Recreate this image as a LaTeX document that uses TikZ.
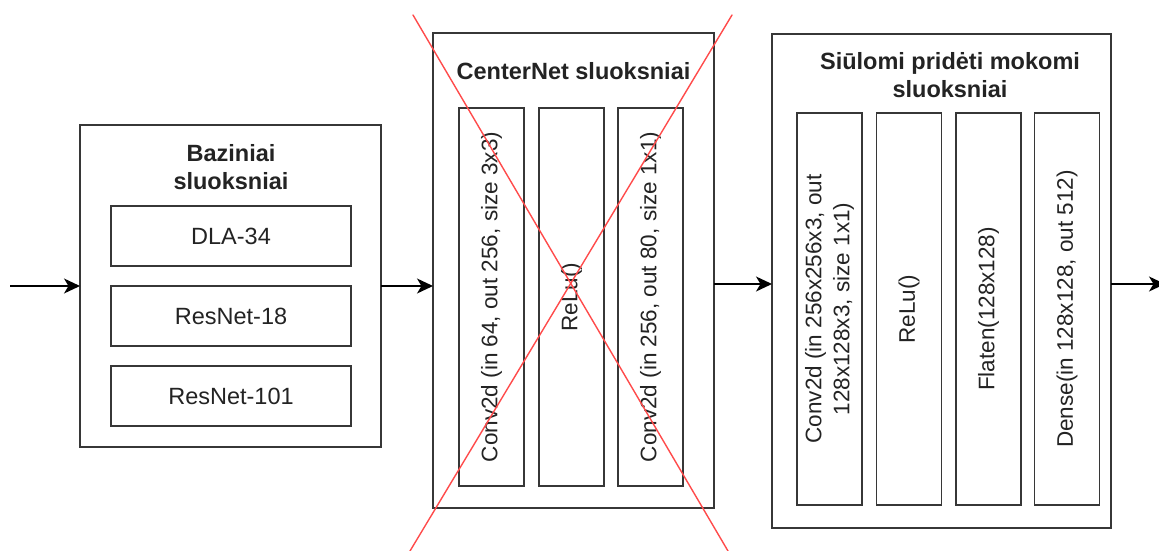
\documentclass[tikz,border=0pt]{standalone}
\usepackage{fontspec}
\setmainfont{Liberation Sans}
\usetikzlibrary{arrows.meta}

\definecolor{edgegray}{RGB}{55,55,55}
\definecolor{inkgray}{RGB}{35,35,35}
\definecolor{crossred}{RGB}{255,75,75}

\tikzset{
  layerbox/.style={draw=edgegray, line width=1.5pt, fill=white, inner sep=0pt, outer sep=0pt},
  lbl/.style={text=inkgray, font=\fontsize{23.5}{27.5}\selectfont, inner sep=0pt, align=center},
  vlbl/.style={lbl, font=\fontsize{22.5}{28}\selectfont, rotate=90},
  ttl/.style={lbl, font=\fontsize{23.5}{27.5}\selectfont\bfseries},
  flow/.style={draw=black, line width=1.5pt, -{Stealth[length=16pt,width=15pt,inset=4.5pt]}},
  strike/.style={draw=crossred, line width=1.4pt, line cap=round}
}

\begin{document}
\begin{tikzpicture}[x=1pt, y=-1pt]
  \useasboundingbox (0,0) rectangle (1159,551);

  % base networks
  \node[layerbox, minimum width=301pt, minimum height=322pt] (lb) at (230.5,286) {};
  \node[ttl, anchor=base] (lbt) at (231,189) {Baziniai\\sluoksniai};
  \node[layerbox, minimum width=240pt, minimum height=60pt] (dla) at (231,236) {};
  \node[lbl] at (dla.center) {DLA-34};
  \node[layerbox, minimum width=240pt, minimum height=60pt] (r18) at (231,316) {};
  \node[lbl] at (r18.center) {ResNet-18};
  \node[layerbox, minimum width=240pt, minimum height=60pt] (r101) at (231,396) {};
  \node[lbl] at (r101.center) {ResNet-101};

  % CenterNet head
  \node[layerbox, minimum width=281pt, minimum height=475pt] (mb) at (573.5,270.5) {};
  \node[ttl, anchor=base] (mbt) at (573.5,80) {CenterNet sluoksniai};
  \node[layerbox, minimum width=65pt, minimum height=378pt] (c1) at (491.5,297) {};
  \node[vlbl] at (c1.center) {Conv2d (in 64, out 256, size 3x3)};
  \node[layerbox, minimum width=65pt, minimum height=378pt] (c2) at (571.5,297) {};
  \node[vlbl] at (c2.center) {ReLu()};
  \node[layerbox, minimum width=65pt, minimum height=378pt] (c3) at (650.5,297) {};
  \node[vlbl] at (c3.center) {Conv2d (in 256, out 80, size 1x1)};

  % proposed trainable layers
  \node[layerbox, minimum width=339pt, minimum height=494pt] (rb) at (941.5,281) {};
  \node[ttl, anchor=base] (rbt) at (950,97) {Siūlomi pridėti mokomi\\sluoksniai};
  \node[layerbox, minimum width=65pt, minimum height=392pt] (p1) at (829.5,309) {};
  \node[vlbl] at (p1.center) {Conv2d (in 256x256x3, out\\128x128x3, size 1x1)};
  \node[layerbox, minimum width=65pt, minimum height=392pt] (p2) at (909,309) {};
  \node[vlbl] at (p2.center) {ReLu()};
  \node[layerbox, minimum width=65pt, minimum height=392pt] (p3) at (988.5,309) {};
  \node[vlbl] at (p3.center) {Flaten(128x128)};
  \node[layerbox, minimum width=65pt, minimum height=392pt] (p4) at (1067,309) {};
  \node[vlbl] at (p4.center) {Dense(in 128x128, out 512)};

  % data flow
  \coordinate (in) at (10,286);
  \coordinate (lvl) at (0,284);
  \coordinate (out) at (1165,284);
  \draw[flow] (in) -- (in -| lb.west);
  \draw[flow] (lb.east) -- (lb.east -| mb.west);
  \draw[flow] (mb.east |- lvl) -- (rb.west |- lvl);
  \draw[flow] (rb.east |- lvl) -- (out);

  % CenterNet head struck out
  \coordinate (xa) at (413,15);
  \coordinate (xb) at (728,551);
  \coordinate (xc) at (732,15);
  \coordinate (xd) at (410,551);
  \draw[strike] (xa) -- (xb);
  \draw[strike] (xc) -- (xd);
\end{tikzpicture}
\end{document}
